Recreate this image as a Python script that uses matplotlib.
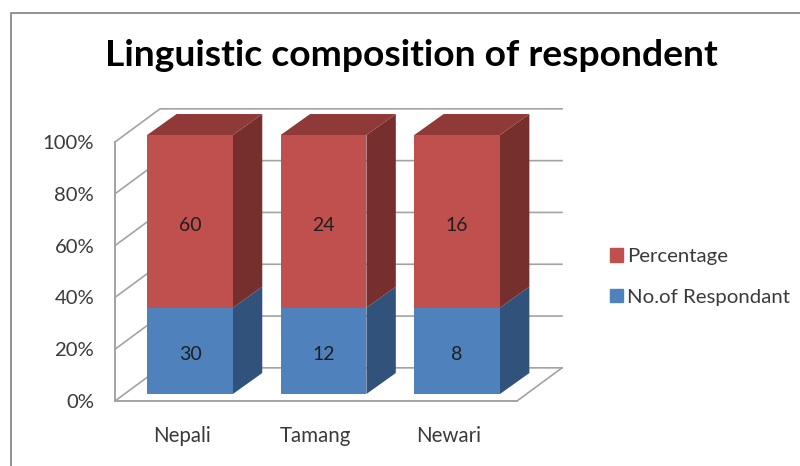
import matplotlib
matplotlib.use("Agg")
import matplotlib.pyplot as plt
from matplotlib.lines import Line2D
from matplotlib.patches import Patch, Polygon
import numpy as np

plt.rcParams['font.family'] = ['Lato', 'DejaVu Sans']

languages = ['Nepali', 'Tamang', 'Newari']
respondents = np.array([30, 12, 8])
percentages = np.array([60, 24, 16])
pct_ticks = [0, 20, 40, 60, 80, 100]

# 100% stacked shares
total = respondents + percentages
resp_share = respondents / total * 100
pct_share = percentages / total * 100

# fake 3D depth, in data units
wall_dx, wall_dy = 0.337, 12.8
gap_dx, gap_dy = 0.0616, 2.7
bar_dx, bar_dy = 0.22, 8.1
bar_w = 0.642
x_end = 2.51

grid_col = '#a3a3a3'
text_col = '#3a3a3a'

fig = plt.figure(figsize=(8, 4.66), dpi=100)
ax = fig.add_axes([115 / 800, 65 / 466, 402 / 800, 259 / 466])
ax.set_xlim(-0.5, x_end)
ax.set_ylim(0, 100)

# outer chart frame
fig.add_artist(Line2D([11 / 800, 11 / 800, 1], [0, 453 / 466, 453 / 466],
                      color='#8a8a8a', lw=1.3))

# walls and floor
for t in pct_ticks:
    ax.plot([-0.5, -0.5 + wall_dx, x_end + wall_dx], [t, t + wall_dy, t + wall_dy],
            color=grid_col, lw=1.2, clip_on=False, zorder=1)
ax.plot([x_end, x_end + wall_dx], [0, wall_dy], color=grid_col, lw=1.2, clip_on=False, zorder=1)

x = np.arange(len(languages)) + gap_dx
base = gap_dy


def draw_side(xc, y0, y1, colour):
    r = xc + bar_w / 2
    ax.add_patch(Polygon([(r, y0), (r + bar_dx, y0 + bar_dy), (r + bar_dx, y1 + bar_dy), (r, y1)],
                         closed=True, fc=colour, ec='none', clip_on=False, zorder=3))


def draw_top(xc, y, colour):
    l, r = xc - bar_w / 2, xc + bar_w / 2
    ax.add_patch(Polygon([(l, y), (r, y), (r + bar_dx, y + bar_dy), (l + bar_dx, y + bar_dy)],
                         closed=True, fc=colour, ec='none', clip_on=False, zorder=3))


def bar_label(xc, y, value):
    ax.annotate(str(value), (xc, y), xytext=(0, -1.8), textcoords='offset points', ha='center',
                va='center_baseline', fontsize=14, color='#1f1f1f', zorder=5)


for i, xc in enumerate(x):
    split = base + resp_share[i]
    top = split + pct_share[i]
    draw_side(xc, base, split, '#31527b')
    draw_side(xc, split, top, '#772f2e')
    draw_top(xc, top, '#8f3a38')

ax.bar(x, resp_share, bar_w, bottom=base, color='#4f81bd', zorder=4, clip_on=False)
ax.bar(x, pct_share, bar_w, bottom=base + resp_share, color='#c0504d', zorder=4, clip_on=False)

for i, xc in enumerate(x):
    bar_label(xc, base + resp_share[i] / 2, respondents[i])
    bar_label(xc, base + resp_share[i] + pct_share[i] / 2, percentages[i])

ax.set_xticks(np.arange(len(languages)), languages)
ax.set_yticks(pct_ticks, [f'{t}%' for t in pct_ticks])
ax.tick_params(axis='x', length=0, pad=18, labelsize=14.8, labelcolor=text_col)
ax.tick_params(axis='y', length=0, pad=15, labelsize=14.6, labelcolor=text_col)
for side in ['top', 'right']:
    ax.spines[side].set_visible(False)
for side in ['left', 'bottom']:
    ax.spines[side].set_color(grid_col)
    ax.spines[side].set_linewidth(1.4)

fig.text(411 / 800, 1 - 56 / 466, 'Linguistic composition of respondent', ha='center', va='center',
         fontsize=26.8, fontweight='bold', color='black')

handles = [Patch(color='#c0504d', label='Percentage'), Patch(color='#4f81bd', label='No.of Respondant')]
fig.legend(handles=handles, loc='center left', bbox_to_anchor=(592 / 800, 1 - 277 / 466), frameon=False,
           handlelength=0.62, handleheight=0.62, handletextpad=0.2, labelspacing=1.15,
           fontsize=14.7, labelcolor=text_col)

fig.savefig('out.png', dpi=100)
